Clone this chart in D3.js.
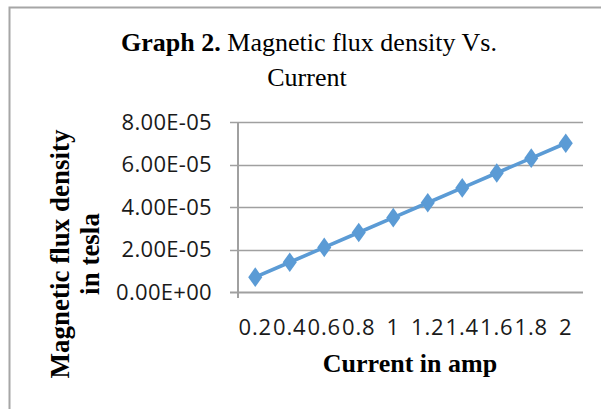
<!DOCTYPE html>
<html>
<head>
<meta charset="utf-8">
<script src="https://cdn.jsdelivr.net/npm/d3@7"></script>
<style>
  body { margin: 0; background: #fff; }
  svg { display: block; }
</style>
</head>
<body>
<div id="chart"></div>
<script>
// data
var currents = ["0.2", "0.4", "0.6", "0.8", "1", "1.2", "1.4", "1.6", "1.8", "2"];
var fluxDensity = [0.7e-5, 1.4e-5, 2.1e-5, 2.8e-5, 3.5e-5, 4.2e-5, 4.9e-5, 5.6e-5, 6.3e-5, 7.0e-5];
var yTicks = [0, 2e-5, 4e-5, 6e-5, 8e-5];

var width = 601, height = 409;
var margin = {top: 122, right: 18, bottom: 117, left: 238};

var serif = "'Liberation Serif', 'Times New Roman', serif";
var sans = "'Open Sans', sans-serif";

var svg = d3.select("#chart").append("svg")
    .attr("width", width)
    .attr("height", height);

// outer frame (left and top only)
svg.append("path")
    .attr("d", "M9.5,409 L9.5,7.5 L601,7.5")
    .attr("fill", "none")
    .attr("stroke", "#a6a6a6")
    .attr("stroke-width", 2);

var x = d3.scaleBand()
    .domain(currents)
    .range([margin.left, width - margin.right]);

var y = d3.scaleLinear()
    .domain([0, 8e-5])
    .range([height - margin.bottom, margin.top]);

// gridlines
svg.append("g")
  .selectAll("line")
  .data(yTicks)
  .enter().append("line")
    .attr("x1", margin.left - 8)
    .attr("x2", width - margin.right)
    .attr("y1", function(d) { return Math.round(y(d)) + 0.5; })
    .attr("y2", function(d) { return Math.round(y(d)) + 0.5; })
    .attr("stroke", "#a0a0a0")
    .attr("stroke-width", function(d) { return d === 0 ? 2 : 1.3; });

// y axis line
svg.append("line")
    .attr("x1", margin.left).attr("x2", margin.left)
    .attr("y1", y(8e-5)).attr("y2", y(0) + 6)
    .attr("stroke", "#a0a0a0")
    .attr("stroke-width", 2);

// y tick labels
svg.append("g")
  .selectAll("text")
  .data(yTicks)
  .enter().append("text")
    .attr("x", 212)
    .attr("y", function(d) { return y(d); })
    .attr("dy", "0.36em")
    .attr("text-anchor", "end")
    .style("font-family", sans)
    .style("font-size", "22px")
    .style("letter-spacing", "0.3px")
    .attr("fill", "#1a1a1a")
    .text(function(d) { return d === 0 ? "0.00E+00" : d3.format(".2e")(d).replace("e-5", "E-05"); });

// x tick labels
svg.append("g")
  .selectAll("text")
  .data(currents)
  .enter().append("text")
    .attr("x", function(d) { return x(d) + x.bandwidth() / 2; })
    .attr("y", 335)
    .attr("text-anchor", "middle")
    .style("font-family", sans)
    .style("font-size", "22px")
    .style("letter-spacing", "0.8px")
    .attr("fill", "#1a1a1a")
    .text(function(d) { return d; });

// the line
var line = d3.line()
    .x(function(d, i) { return x(currents[i]) + x.bandwidth() / 2; })
    .y(function(d) { return y(d); });

svg.append("path")
    .datum(fluxDensity)
    .attr("d", line)
    .attr("fill", "none")
    .attr("stroke", "#5b9bd5")
    .attr("stroke-width", 3.6);

svg.append("g")
  .selectAll("path")
  .data(fluxDensity)
  .enter().append("path")
    .attr("d", d3.symbol().type(d3.symbolDiamond).size(110))
    .attr("transform", function(d, i) {
      return "translate(" + (x(currents[i]) + x.bandwidth() / 2) + "," + y(d) + ") scale(1.25,1)";
    })
    .attr("fill", "#5b9bd5");

// title
var title = svg.append("text")
    .attr("x", 309)
    .attr("y", 51)
    .attr("text-anchor", "middle")
    .style("font-family", serif)
    .style("font-size", "26px")
    .attr("fill", "#000");
title.append("tspan").style("font-weight", "bold").text("Graph 2.");
title.append("tspan").text(" Magnetic flux density Vs.");
svg.append("text")
    .attr("x", 307)
    .attr("y", 86)
    .attr("text-anchor", "middle")
    .style("font-family", serif)
    .style("font-size", "26px")
    .attr("fill", "#000")
    .text("Current");

// axis titles
var yTitle = svg.append("text")
    .attr("transform", "translate(69,254) rotate(-90)")
    .attr("text-anchor", "middle")
    .style("font-family", serif)
    .style("font-size", "27px")
    .style("font-weight", "bold")
    .attr("fill", "#000");
yTitle.append("tspan").attr("x", 0).attr("y", 0).text("Magnetic flux density");
yTitle.append("tspan").attr("x", 0).attr("y", 30).text("in tesla");

svg.append("text")
    .attr("x", 410)
    .attr("y", 372)
    .attr("text-anchor", "middle")
    .style("font-family", serif)
    .style("font-size", "26px")
    .style("font-weight", "bold")
    .attr("fill", "#000")
    .text("Current in amp");
</script>
</body>
</html>
